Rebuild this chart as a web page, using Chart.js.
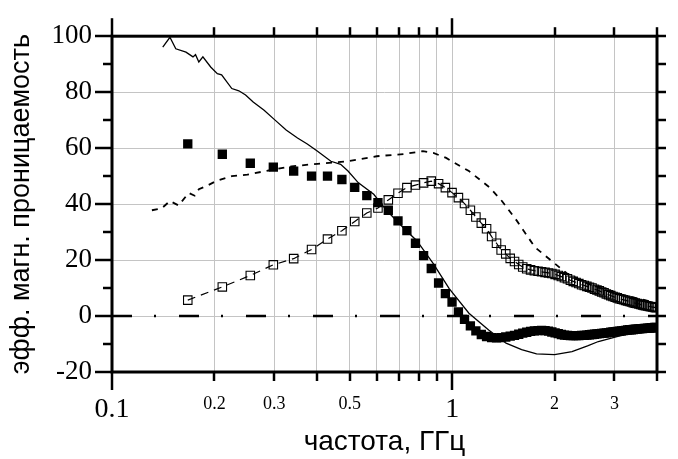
<!DOCTYPE html>
<html>
<head>
<meta charset="utf-8">
<script src="https://cdn.jsdelivr.net/npm/chart.js@4/dist/chart.umd.min.js"></script>
<style>
  html, body { margin: 0; padding: 0; background: #fff; }
  #wrap { width: 678px; height: 459px; }
</style>
</head>
<body>
<div id="wrap"><canvas id="mu-chart" width="678" height="459"></canvas></div>
<script>
// measured points (linear frequency sweep), GHz
const freqMeas = [
    0.167, 0.211, 0.255, 0.298, 0.342, 0.386, 0.430, 0.474, 0.517, 0.561,
    0.605, 0.649, 0.693, 0.736, 0.780, 0.824, 0.868, 0.912, 0.955, 0.999,
    1.043, 1.087, 1.131, 1.174, 1.218, 1.262, 1.306, 1.350, 1.393, 1.437,
    1.481, 1.525, 1.569, 1.612, 1.656, 1.700, 1.744, 1.788, 1.831, 1.875,
    1.919, 1.963, 2.007, 2.050, 2.094, 2.138, 2.182, 2.226, 2.269, 2.313,
    2.357, 2.401, 2.445, 2.488, 2.532, 2.576, 2.620, 2.664, 2.707, 2.751,
    2.795, 2.839, 2.883, 2.926, 2.970, 3.014, 3.058, 3.102, 3.145, 3.189,
    3.233, 3.277, 3.321, 3.364, 3.408, 3.452, 3.496, 3.540, 3.583, 3.627,
    3.671, 3.715, 3.759, 3.802, 3.846, 3.890, 3.934, 3.978
];
// filled squares
const muRealMeas = [
    61.5, 57.8, 54.6, 53.2, 51.8, 50.0, 50.0, 48.8, 46.0, 43.0,
    40.5, 37.8, 34.0, 30.5, 26.0, 21.6, 17.0, 11.8, 8.0, 5.0,
    1.5, -1.2, -3.5, -5.3, -6.6, -7.3, -7.7, -7.8, -7.7, -7.5,
    -7.2, -6.9, -6.5, -6.1, -5.8, -5.5, -5.3, -5.2, -5.1, -5.2,
    -5.4, -5.7, -6.0, -6.3, -6.6, -6.8, -6.9, -7.0, -7.0, -7.0,
    -7.0, -6.9, -6.9, -6.8, -6.7, -6.6, -6.5, -6.4, -6.3, -6.2,
    -6.1, -6.0, -5.9, -5.8, -5.7, -5.6, -5.5, -5.4, -5.3, -5.2,
    -5.1, -5.0, -4.9, -4.9, -4.8, -4.7, -4.7, -4.6, -4.5, -4.5,
    -4.4, -4.4, -4.3, -4.3, -4.2, -4.2, -4.1, -4.1
];
// open squares
const muImagMeas = [
    5.7, 10.4, 14.5, 18.3, 20.5, 23.8, 27.5, 30.5, 33.8, 36.8,
    38.6, 41.5, 43.9, 45.9, 46.8, 47.6, 48.2, 47.3, 45.9, 44.1,
    42.3, 40.2, 37.8, 35.4, 33.2, 31.2, 28.4, 26.0, 23.6, 22.2,
    20.6, 19.5, 18.4, 17.5, 16.9, 16.5, 16.2, 16.0, 15.8, 15.6,
    15.4, 15.2, 14.9, 14.5, 14.1, 13.7, 13.3, 12.8, 12.4, 12.0,
    11.6, 11.2, 10.9, 10.6, 10.3, 10.0, 9.6, 9.3, 9.0, 8.6,
    8.3, 7.9, 7.6, 7.3, 7.0, 6.7, 6.5, 6.2, 6.0, 5.8,
    5.6, 5.4, 5.2, 5.0, 4.8, 4.6, 4.5, 4.3, 4.1, 4.0,
    3.8, 3.7, 3.6, 3.4, 3.3, 3.2, 3.1, 3.0
];

// calculated curves
const freqModelRe = [0.141, 0.148, 0.154, 0.165, 0.173, 0.176, 0.180, 0.185, 0.195, 0.204,
    0.210, 0.225, 0.236, 0.247, 0.260, 0.280, 0.301, 0.325, 0.351, 0.375,
    0.402, 0.440, 0.470, 0.494, 0.530, 0.588, 0.643, 0.733, 0.786, 0.880,
    0.980, 1.120, 1.280, 1.440, 1.600, 1.770, 2.000, 2.250, 2.500, 2.690,
    3.070, 3.400, 3.700, 4.000];
const muRealModel = [96.1, 99.6, 95.5, 94.3, 92.6, 93.4, 90.8, 92.6, 89.0, 86.6,
    86.2, 81.3, 80.5, 79.0, 76.5, 73.5, 70.1, 66.5, 63.6, 61.5,
    58.9, 55.3, 54.2, 51.8, 47.6, 43.5, 37.6, 30.5, 27.0, 18.7,
    9.8, 1.0, -5.0, -9.7, -12.0, -13.5, -13.8, -12.7, -10.7, -9.1,
    -7.3, -6.0, -5.0, -4.3];
const freqModelIm = [0.131, 0.140, 0.148, 0.157, 0.168, 0.175, 0.180, 0.190, 0.202, 0.225,
    0.250, 0.282, 0.337, 0.402, 0.494, 0.600, 0.720, 0.820, 0.880, 0.960,
    1.120, 1.290, 1.400, 1.550, 1.750, 1.950, 2.180, 2.500, 3.000, 3.450,
    4.000];
const muImagModel = [37.8, 38.5, 41.1, 39.5, 44.0, 43.0, 45.3, 46.5, 48.2, 50.0,
    50.5, 51.8, 53.5, 54.4, 55.3, 57.1, 57.9, 58.9, 58.3, 56.5,
    51.8, 45.9, 41.1, 34.0, 24.6, 19.9, 15.1, 11.6, 8.2, 6.5,
    4.6];

const zeroLineX = [0.1, 4];
const zeroLineY = [0, 0];

const xTickValues = [0.1, 0.2, 0.3, 0.4, 0.5, 0.6, 0.7, 0.8, 0.9, 1, 2, 3, 4];
const xLabelValues = [0.1, 0.2, 0.3, 0.5, 1, 2, 3];
const xLabelTexts = ['0.1', '0.2', '0.3', '0.5', '1', '2', '3'];
const xBigLabels = [0.1, 1];
const yTickValues = [-20, -10, 0, 10, 20, 30, 40, 50, 60, 70, 80, 90, 100];

function pairs(xs, ys) {
    return xs.map((x, i) => ({ x: x, y: ys[i] }));
}

// frame with outward ticks on all four sides
const framePlugin = {
    id: 'frame',
    afterDatasetsDraw(chart) {
        const ctx = chart.ctx;
        const a = chart.chartArea;
        const xs = chart.scales.x;
        const ys = chart.scales.y;
        ctx.save();
        ctx.strokeStyle = '#000';
        ctx.lineCap = 'butt';

        function seg(x1, y1, x2, y2) {
            ctx.beginPath();
            ctx.moveTo(x1, y1);
            ctx.lineTo(x2, y2);
            ctx.stroke();
        }

        ctx.lineWidth = 2.5;
        xTickValues.forEach(v => {
            const px = Math.round(xs.getPixelForValue(v));
            const len = xBigLabels.includes(v) ? 18 : 9;
            seg(px, a.bottom, px, a.bottom + len);
            seg(px, a.top, px, a.top - len);
        });
        yTickValues.forEach(v => {
            const py = Math.round(ys.getPixelForValue(v));
            const len = (v % 20 === 0) ? 17 : 9;
            seg(a.left, py, a.left - len, py);
            seg(a.right, py, a.right + 9, py);
        });

        ctx.lineWidth = 3;
        ctx.strokeRect(a.left, a.top, a.right - a.left, a.bottom - a.top);
        ctx.restore();
    }
};

const ctx = document.getElementById('mu-chart').getContext('2d');

new Chart(ctx, {
    type: 'scatter',
    data: {
        datasets: [
            {
                label: 'zero',
                data: pairs(zeroLineX, zeroLineY),
                showLine: true,
                borderColor: '#000',
                borderWidth: 2.5,
                borderDash: [20, 22, 2, 23],
                pointRadius: 0
            },
            {
                label: 'mu model imag',
                data: pairs(freqModelIm, muImagModel),
                showLine: true,
                borderColor: '#000',
                borderWidth: 1.8,
                borderDash: [6, 6],
                pointRadius: 0
            },
            {
                label: 'mu model real',
                data: pairs(freqModelRe, muRealModel),
                showLine: true,
                borderColor: '#000',
                borderWidth: 1.3,
                pointRadius: 0
            },
            {
                label: 'mu imag',
                data: pairs(freqMeas, muImagMeas),
                showLine: true,
                borderColor: '#000',
                borderWidth: 1.2,
                borderDash: [8, 6],
                pointStyle: 'rect',
                pointRadius: 6,
                pointBorderWidth: 1.1,
                pointBorderColor: '#000',
                pointBackgroundColor: 'rgba(0,0,0,0)'
            },
            {
                label: 'mu real',
                data: pairs(freqMeas, muRealMeas),
                showLine: false,
                pointStyle: 'rect',
                pointRadius: 6.6,
                pointBorderWidth: 0,
                pointBackgroundColor: '#000',
                pointBorderColor: '#000'
            }
        ]
    },
    options: {
        responsive: false,
        animation: false,
        layout: { padding: { top: 33, right: 15, left: 0, bottom: 0 } },
        plugins: {
            legend: { display: false },
            tooltip: { enabled: false }
        },
        scales: {
            x: {
                type: 'logarithmic',
                min: 0.1,
                max: 4,
                afterBuildTicks: scale => {
                    scale.ticks = xTickValues.map(v => ({ value: v }));
                },
                afterFit: scale => { scale.height = 87; },
                grid: { color: '#c4c4c4', lineWidth: 1, drawTicks: false },
                border: { display: false },
                ticks: {
                    autoSkip: false,
                    maxRotation: 0,
                    padding: 21,
                    color: '#000',
                    font: c => {
                        const big = c.tick && xBigLabels.includes(c.tick.value);
                        return { family: '"Liberation Serif", "Times New Roman", serif', size: big ? 28 : 18 };
                    },
                    callback: v => {
                        const i = xLabelValues.indexOf(v);
                        return i >= 0 ? xLabelTexts[i] : '';
                    }
                },
                title: {
                    display: true,
                    text: 'частота, ГГц',
                    color: '#000',
                    font: { family: '"Liberation Sans", Arial, sans-serif', size: 28 },
                    padding: { top: 0, bottom: 0 }
                }
            },
            y: {
                min: -20,
                max: 100,
                afterBuildTicks: scale => {
                    scale.ticks = yTickValues.map(v => ({ value: v }));
                },
                afterFit: scale => { scale.width = 112; },
                grid: { color: '#c4c4c4', lineWidth: 1, drawTicks: false },
                border: { display: false },
                ticks: {
                    padding: 20,
                    color: '#000',
                    font: { family: '"Liberation Serif", "Times New Roman", serif', size: 27 },
                    callback: v => (v % 20 === 0 ? String(v) : '')
                },
                title: {
                    display: true,
                    text: 'эфф. магн. проницаемость',
                    color: '#000',
                    font: { family: '"Liberation Sans", Arial, sans-serif', size: 27 },
                    padding: { top: 5, bottom: 0 }
                }
            }
        }
    },
    plugins: [framePlugin]
});
</script>
</body>
</html>
